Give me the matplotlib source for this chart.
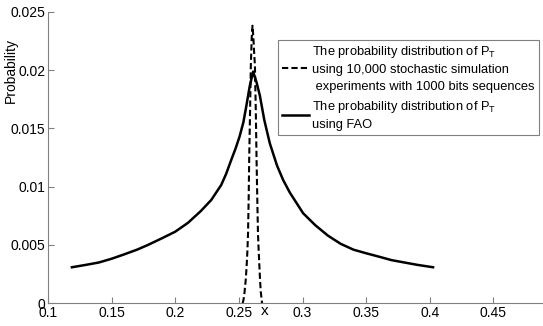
import matplotlib.pyplot as plt

plt.rcParams['font.family'] = ['Liberation Sans', 'DejaVu Sans']
plt.rcParams['mathtext.default'] = 'regular'

# simulation (dashed) curve
sim_x = [0.2530, 0.2538, 0.2545, 0.2553, 0.2560, 0.2567, 0.2572, 0.2577,
         0.2581, 0.2588, 0.2594, 0.2601, 0.2607, 0.2614, 0.2620, 0.2626,
         0.2633, 0.2639, 0.2645, 0.2650, 0.2656, 0.2662, 0.2667, 0.2672,
         0.2682]
sim_p = [0.0, 0.0004, 0.0010, 0.0019, 0.0030, 0.0045, 0.0060, 0.0090,
         0.0123, 0.0165, 0.0204, 0.0228, 0.0238, 0.0228, 0.0215, 0.0204,
         0.0165, 0.0123, 0.0088, 0.0060, 0.0044, 0.0030, 0.0019, 0.0010,
         0.0]

# FAO (solid) curve
fao_x = [0.1188, 0.13, 0.14, 0.15, 0.16, 0.17, 0.1785, 0.19, 0.20, 0.21,
         0.22, 0.2283, 0.2361, 0.24, 0.2440, 0.2475, 0.2505, 0.2535,
         0.2560, 0.2585, 0.2612, 0.2640, 0.2665, 0.2700, 0.2743, 0.2800,
         0.2848, 0.29, 0.3005, 0.31, 0.32, 0.33, 0.34, 0.35, 0.36, 0.37,
         0.38, 0.39, 0.4026]
fao_p = [0.00309, 0.0033, 0.0035, 0.00382, 0.0042, 0.0046, 0.0050, 0.0056,
         0.00614, 0.0069, 0.0079, 0.00886, 0.01014, 0.0111, 0.01229,
         0.0133, 0.01428, 0.0155, 0.0170, 0.0186, 0.01986, 0.0189, 0.0178,
         0.0157, 0.01372, 0.0118, 0.01057, 0.0095, 0.00772, 0.0067, 0.0058,
         0.0051, 0.0046, 0.00429, 0.0040, 0.0037, 0.0035, 0.0033, 0.00309]

xticks = [0.1, 0.15, 0.2, 0.25, 0.3, 0.35, 0.4, 0.45]
yticks = [0, 0.005, 0.01, 0.015, 0.02, 0.025]

lbl_sim = ('The probability distribution of P$_T$\n'
           'using 10,000 stochastic simulation\n'
           ' experiments with 1000 bits sequences')
lbl_fao = 'The probability distribution of P$_T$\nusing FAO'

fig = plt.figure(figsize=(5.43, 3.26), dpi=100)
ax = fig.add_axes([48 / 543, 22.7 / 326, 509 / 543, 291.6 / 326])

ax.plot(sim_x, sim_p, 'k--', lw=1.5, dashes=(3, 1.5), label=lbl_sim)
ax.plot(fao_x, fao_p, 'k-', lw=1.8, label=lbl_fao)

ax.set_xlim(0.1, 0.5)
ax.set_ylim(0, 0.025)
ax.set_xticks(xticks)
ax.set_xticklabels(['0.1', '0.15', '0.2', '0.25', '0.3', '0.35', '0.4', '0.45'])
ax.set_yticks(yticks)
ax.set_yticklabels(['0', '0.005', '0.01', '0.015', '0.02', '0.025'])

for s in ['top', 'right']:
    ax.spines[s].set_visible(False)
for s in ['left', 'bottom']:
    ax.spines[s].set_color('#808080')
    ax.spines[s].set_linewidth(0.8)
ax.tick_params(direction='in', length=4, color='#808080', labelsize=10, pad=2)

ax.set_ylabel('Probability', fontsize=10, labelpad=0)
ax.yaxis.set_label_coords(-0.059, 0.797)
ax.set_xlabel('x', fontsize=11)
ax.xaxis.set_label_coords(0.426, -0.003)

leg = ax.legend(loc='upper left', bbox_to_anchor=(278 / 543, 1 - 40 / 326),
                bbox_transform=fig.transFigure, fontsize=9.3, fancybox=False,
                edgecolor='#808080', framealpha=1, handlelength=2.1,
                handletextpad=0.25, borderpad=0.3, labelspacing=0.45,
                borderaxespad=0)
leg.get_frame().set_linewidth(0.8)
for t in leg.get_texts():
    t.set_linespacing(1.5)

fig.savefig('out.png', dpi=100)
